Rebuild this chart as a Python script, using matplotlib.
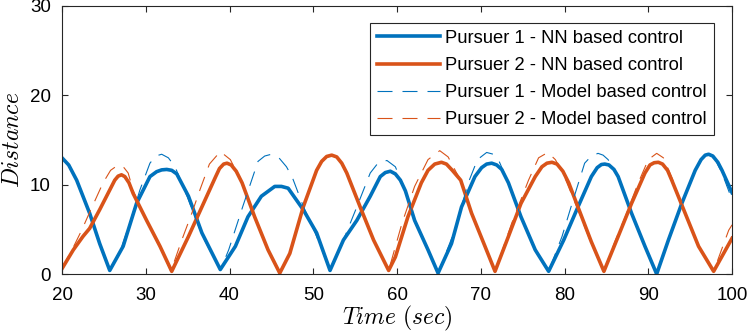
import numpy as np
import matplotlib
matplotlib.use("Agg")
from matplotlib import pyplot as plt

# pursuer 1, NN based control (solid blue)
t_p1_nn = [20, 20.8, 21.75, 23.3, 24.5, 25.7, 27.3, 28.9, 30.5, 31.3, 31.9, 32.5, 33.1, 33.7,
           35.1, 36.7, 38.9, 40.7, 42.2, 43.8, 45.4, 46.2, 47.0, 48.8, 50.4, 52.0, 53.6, 55.2,
           56.8, 58.0, 58.6, 59.2, 59.8, 60.4, 61.0, 62.1, 63.7, 64.9, 66.5, 67.7, 69.3, 70.1,
           70.7, 71.3, 71.9, 72.5, 73.3, 74.8, 76.5, 78.1, 79.9, 81.6, 83.2, 83.9, 84.4, 84.8,
           85.3, 85.9, 86.4, 88.0, 89.6, 91.0, 92.4, 94.0, 95.6, 96.3, 96.8, 97.2, 97.7, 98.3,
           98.8, 100]
d_p1_nn = [13.0, 12.2, 10.5, 6.8, 3.4, 0.4, 3.1, 7.9, 10.9, 11.45, 11.65, 11.7, 11.6, 11.2,
           8.7, 4.6, 0.5, 3.1, 6.4, 8.7, 9.8, 9.8, 9.6, 7.2, 4.6, 0.4, 3.8, 6.0,
           8.7, 10.9, 11.35, 11.5, 11.2, 10.5, 9.3, 6.0, 2.7, 0.1, 3.4, 7.5, 10.9, 11.9,
           12.3, 12.4, 12.2, 11.7, 10.2, 6.4, 2.7, 0.3, 3.8, 7.5, 10.9, 11.9, 12.25, 12.3,
           12.2, 11.7, 10.9, 6.8, 3.1, 0.0, 3.8, 7.9, 11.6, 12.8, 13.3, 13.4, 13.2, 12.5,
           11.6, 9.1]

# pursuer 2, NN based control (solid orange)
t_p2_nn = [20, 21.35, 22.5, 23.3, 24.5, 25.7, 26.3, 26.7, 27.1, 27.5, 28.0, 28.5, 30.1, 31.7,
           33.1, 35.1, 36.7, 38.3, 38.8, 39.3, 39.7, 40.2, 40.8, 41.5, 43.0, 44.6, 46.0, 47.2,
           48.8, 50.4, 51.0, 51.6, 52.2, 52.8, 53.4, 54.0, 55.6, 57.2, 59.0, 59.8, 61.3, 62.9,
           63.7, 64.5, 65.3, 65.9, 66.6, 67.6, 68.9, 70.5, 71.7, 73.3, 74.8, 76.5, 77.3, 77.9,
           78.5, 79.1, 79.8, 80.5, 81.6, 83.2, 84.7, 86.4, 88.0, 89.6, 90.2, 90.7, 91.2, 91.7,
           92.3, 92.8, 94.4, 96.0, 97.8, 100]
d_p2_nn = [0.6, 2.7, 4.2, 5.1, 7.2, 9.4, 10.5, 10.95, 11.1, 10.9, 10.2, 9.0, 6.0, 3.1,
           0.3, 4.2, 7.5, 10.8, 11.8, 12.3, 12.4, 12.2, 11.5, 10.2, 6.4, 2.7, 0.1, 2.3,
           7.5, 11.6, 12.6, 13.15, 13.3, 13.1, 12.4, 11.3, 7.5, 3.8, 0.4, 1.9, 6.4, 10.2,
           11.6, 12.3, 12.5, 12.3, 11.6, 10.5, 6.8, 3.1, 0.3, 4.2, 7.9, 10.9, 12.0, 12.4,
           12.5, 12.3, 11.5, 10.2, 7.5, 3.6, 0.3, 4.2, 7.9, 11.3, 12.2, 12.45, 12.5, 12.3,
           11.6, 10.5, 6.8, 3.1, 0.3, 4.0]

# pursuer 1, model based control (dashed blue)
t_p1_mb = [20, 20.8, 21.75, 23.3, 24.5, 25.7, 27.0, 28.1, 29.3, 30.5, 31.2, 31.9, 32.7, 33.5,
           35.1, 36.7, 38.9, 39.9, 41.6, 43.4, 44.2, 45.0, 45.9, 46.8, 47.5, 48.8, 50.4, 52.0,
           53.6, 55.2, 56.8, 57.8, 58.8, 59.8, 61.0, 62.1, 63.7, 64.9, 66.9, 68.5, 69.6, 70.7,
           71.5, 72.1, 73.3, 74.8, 76.5, 78.1, 79.7, 80.9, 82.4, 83.2, 84.0, 84.6, 85.2, 86.4,
           88.0, 89.6, 91.0, 92.4, 94.0, 95.6, 96.4, 97.2, 98.0, 98.8, 100]
d_p1_mb = [13.0, 12.2, 10.5, 6.8, 3.4, 0.4, 2.7, 5.7, 9.4, 12.4, 13.2, 13.4, 13.0, 12.0,
           8.3, 4.4, 0.4, 2.7, 7.6, 12.6, 13.2, 13.4, 13.0, 12.0, 10.8, 7.6, 4.2, 0.4,
           3.8, 7.5, 11.3, 12.5, 12.7, 12.0, 9.3, 6.0, 2.7, 0.1, 4.9, 10.2, 12.8, 13.6,
           13.4, 12.8, 10.2, 6.4, 2.7, 0.3, 4.2, 7.9, 12.4, 13.2, 13.5, 13.3, 12.8, 10.9,
           6.8, 3.1, 0.0, 3.8, 7.9, 11.6, 12.9, 13.4, 12.8, 11.3, 8.3]

# pursuer 2, model based control (dashed orange)
t_p2_mb = [20, 21.3, 22.35, 23.3, 24.9, 25.8, 26.7, 27.4, 27.9, 28.5, 30.1, 31.7, 33.0, 34.3,
           35.5, 36.5, 37.6, 38.9, 40.1, 41.5, 43.0, 44.6, 46.0, 47.2, 48.8, 50.4, 51.3, 52.2,
           53.1, 54.0, 55.6, 57.2, 59.0, 60.6, 62.1, 63.7, 65.1, 66.1, 67.0, 67.6, 68.9, 70.5,
           71.7, 73.7, 75.7, 76.9, 78.0, 78.9, 79.8, 81.6, 83.2, 84.7, 86.0, 87.2, 88.8, 90.0,
           91.0, 91.8, 92.8, 94.4, 96.0, 97.8, 99.6, 100]
d_p2_mb = [0.6, 2.9, 4.9, 6.9, 10.2, 11.6, 12.2, 11.9, 11.3, 9.3, 6.0, 3.1, 0.3, 3.8,
           6.8, 9.5, 12.3, 13.7, 12.8, 10.2, 6.4, 2.7, 0.1, 2.3, 7.5, 11.6, 12.9, 13.3,
           12.8, 11.3, 7.5, 3.8, 0.4, 5.7, 9.8, 12.8, 13.8, 13.1, 11.5, 10.5, 6.8, 3.1,
           0.3, 5.7, 10.5, 13.0, 13.6, 12.8, 11.3, 7.2, 3.4, 0.3, 3.6, 6.3, 10.2, 12.8,
           13.5, 13.0, 10.8, 6.8, 3.1, 0.3, 4.9, 5.5]

labels = ['Pursuer 1 - NN based control', 'Pursuer 2 - NN based control',
          'Pursuer 1 - Model based control', 'Pursuer 2 - Model based control']

blue = '#0072BD'
orange = '#D95319'
dark = '#262626'

plt.rcParams['font.family'] = ['Liberation Sans', 'DejaVu Sans']
plt.rcParams['mathtext.fontset'] = 'cm'

fig = plt.figure(figsize=(7.47, 3.36), dpi=100)
ax = fig.add_axes([0.083, 0.1845, 0.897, 0.798])

ax.plot(t_p1_nn, d_p1_nn, color=blue, lw=2.6, label=labels[0])
ax.plot(t_p2_nn, d_p2_nn, color=orange, lw=2.6, label=labels[1])
ax.plot(t_p1_mb, d_p1_mb, color=blue, lw=0.8, ls=(0, (13.5, 9)), label=labels[2])
ax.plot(t_p2_mb, d_p2_mb, color=orange, lw=0.8, ls=(0, (13.5, 9)), label=labels[3])

ax.set_xlim(20, 100)
ax.set_ylim(0, 30)
ax.set_xticks(np.arange(20, 101, 10))
ax.set_yticks([0, 10, 20, 30])
ax.tick_params(direction='in', length=4, width=0.8, colors=dark, labelsize=13.5,
               top=True, right=True, labelcolor='black')
ax.tick_params(axis='x', pad=9)
ax.tick_params(axis='y', pad=8)
for s in ax.spines.values():
    s.set_color(dark)
    s.set_linewidth(0.8)

ax.set_xlabel(r'$Time\ (sec)$', fontsize=17, labelpad=0)
ax.set_ylabel(r'$Distance$', fontsize=17, labelpad=4)

leg = ax.legend(loc='upper right', bbox_to_anchor=(0.973, 0.938), fontsize=13.2,
                handlelength=3.4, fancybox=False, framealpha=1, edgecolor=dark,
                labelspacing=0.55, borderpad=0.4, handletextpad=0.3, borderaxespad=0)
leg.get_frame().set_linewidth(0.8)

fig.savefig('out.png', dpi=100)
